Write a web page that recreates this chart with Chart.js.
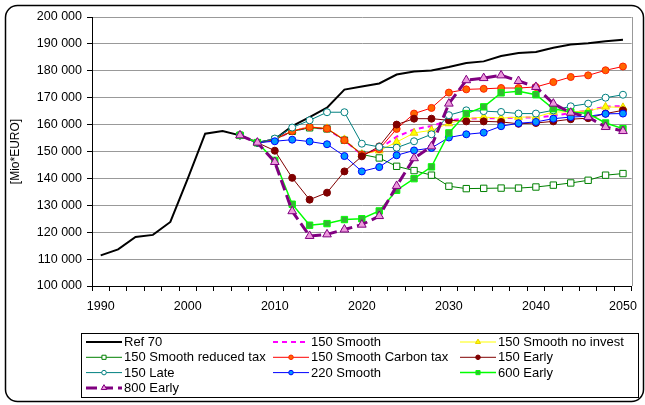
<!DOCTYPE html>
<html>
<head>
<meta charset="utf-8">
<script src="https://cdn.jsdelivr.net/npm/chart.js@4.4.1/dist/chart.umd.min.js"></script>
<style>
  html, body { margin: 0; padding: 0; background: #fff; }
</style>
</head>
<body>
<canvas id="myChart" width="645" height="405"></canvas>
<script>
// categories: one every two years
var years = ['1990','1992','1994','1996','1998','2000','2002','2004','2006','2008','2010',
             '2012','2014','2016','2018','2020','2022','2024','2026','2028','2030',
             '2032','2034','2036','2038','2040','2042','2044','2046','2048','2050'];

var yTicks = [100000, 110000, 120000, 130000, 140000, 150000, 160000, 170000, 180000, 190000, 200000];

// series values, Mio EURO (scenarios start in 2006)
var ref70      = [111400,113600,118200,119000,123800,139900,156600,157600,156000,153300,154500,159400,162800,166300,173000,174200,175300,178600,179700,180100,181400,182900,183500,185500,186600,187000,188600,189800,190200,191000,191500];
var smooth150  = [null,null,null,null,null,null,null,null,156000,153300,154400,157600,159000,158400,154200,148800,151000,155500,158200,159500,161500,162300,162300,162400,162600,162700,163200,164300,165200,166700,166900];
var noInvest   = [null,null,null,null,null,null,null,null,156000,153300,154500,157700,159200,158600,154500,149000,150300,153500,156900,157900,160400,162200,162800,162400,162800,162800,164700,164700,165100,166600,166400];
var reducedTax = [null,null,null,null,null,null,null,null,156000,153300,154500,157500,158800,158400,154200,148900,147600,144500,142900,141200,137100,136200,136300,136400,136400,136800,137500,138300,139300,141200,141800];
var carbonTax  = [null,null,null,null,null,null,null,null,156000,153300,154500,157600,159100,158500,154200,148800,150900,158400,164100,166200,171900,173100,173300,173600,173600,174000,175800,177700,178300,180200,181600];
var early150   = [null,null,null,null,null,null,null,null,156000,153300,150300,140200,132100,134700,142600,148200,151900,160000,162200,162200,161600,161200,161200,161000,160300,160600,161200,162000,162400,164100,165300];
var late150    = [null,null,null,null,null,null,null,null,156000,153300,154800,158900,161600,164600,164600,152900,151700,151400,153800,156400,163500,165300,165000,164700,164100,164100,165300,166800,167800,170000,171100];
var smooth220  = [null,null,null,null,null,null,null,null,156000,153300,153800,154400,153700,152700,148300,142600,144200,148600,150400,151300,155200,156400,157000,159400,160500,161000,162200,162800,163100,164000,164100];
var early600   = [null,null,null,null,null,null,null,null,156000,153300,146700,130400,122600,123200,124700,125000,127900,135600,139900,144300,156900,164100,166600,171800,172400,171100,165900,164700,164100,160600,158500];
var early800   = [null,null,null,null,null,null,null,null,156000,153300,146100,127800,118600,119200,121000,122800,126000,137200,147500,151900,167800,176500,177300,178300,176200,174000,167800,164400,162800,159100,157600];

var FONT = '"Liberation Sans", Arial, sans-serif';

function series(label, data, color, width, dash, style, radius, fill, edge) {
    return {
        label: label,
        data: data,
        borderColor: color,
        backgroundColor: color,
        borderWidth: width,
        borderDash: dash,
        pointStyle: style,
        pointRadius: radius,
        pointBackgroundColor: fill,
        pointBorderColor: edge,
        pointBorderWidth: 1,
        pointHoverRadius: radius,
        tension: 0,
        spanGaps: false
    };
}

var datasets = [
    series('Ref 70', ref70, '#000000', 2, [], 'circle', 0, '#000', '#000'),
    series('150 Smooth', smooth150, '#FF00FF', 2, [5, 4], 'circle', 0, '#FF00FF', '#FF00FF'),
    series('150 Smooth no invest', noInvest, '#FFFF00', 1, [], 'triangle', 4.5, '#FFFF00', '#E8D000'),
    series('150 Smooth reduced tax', reducedTax, '#008000', 1, [], 'rect', 4.5, '#FFFFFF', '#008000'),
    series('150 Smooth Carbon tax', carbonTax, '#FF0000', 1, [], 'circle', 3.5, '#FF6600', '#FF2200'),
    series('150 Early', early150, '#800000', 1, [], 'circle', 3.5, '#800000', '#800000'),
    series('150 Late', late150, '#008080', 1, [], 'circle', 3.5, '#FFFFFF', '#008080'),
    series('220 Smooth', smooth220, '#0000FF', 1, [], 'circle', 3.5, '#0099FF', '#0000FF'),
    series('600 Early', early600, '#00FF00', 1.5, [], 'rect', 4.5, '#33B833', '#00FF00'),
    series('800 Early', early800, '#800080', 3, [11, 5], 'triangle', 5, '#EE99DD', '#800080')
];
// later series are drawn on top, as in the original
datasets.forEach(function (ds, i) { ds.order = -i; });

// white page with the rounded outer frame and the plot's right edge
var frame = {
    id: 'frame',
    beforeDraw: function (chart) {
        var ctx = chart.ctx;
        ctx.save();
        ctx.fillStyle = '#fff';
        ctx.fillRect(0, 0, chart.width, chart.height);
        ctx.strokeStyle = '#000';
        ctx.lineWidth = 1.5;
        ctx.beginPath();
        ctx.roundRect(5.5, 5.5, 638, 396, 12);
        ctx.stroke();
        ctx.restore();
    },
    beforeDatasetsDraw: function (chart) {
        var a = chart.chartArea, ctx = chart.ctx;
        ctx.save();
        ctx.strokeStyle = '#999';
        ctx.lineWidth = 1;
        ctx.beginPath();
        ctx.moveTo(Math.round(a.right) + 0.5, a.top);
        ctx.lineTo(Math.round(a.right) + 0.5, a.bottom);
        ctx.stroke();
        ctx.restore();
    }
};

// three-column legend in a box below the plot
var legendBox = {
    id: 'legendBox',
    afterDraw: function (chart) {
        var ctx = chart.ctx;
        var colX = [86, 273, 460];
        ctx.save();
        ctx.strokeStyle = '#000';
        ctx.lineWidth = 1;
        ctx.strokeRect(81.5, 333.5, 557, 64);
        ctx.font = '13px ' + FONT;
        ctx.textBaseline = 'middle';
        chart.data.datasets.forEach(function (ds, i) {
            var x0 = colX[i % 3];
            var y0 = 342 + Math.floor(i / 3) * 15.3;
            ctx.strokeStyle = ds.borderColor;
            ctx.lineWidth = ds.borderWidth;
            ctx.setLineDash(ds.borderDash);
            ctx.beginPath();
            ctx.moveTo(x0, y0);
            ctx.lineTo(x0 + 36, y0);
            ctx.stroke();
            ctx.setLineDash([]);
            if (ds.pointRadius > 0) {
                ctx.fillStyle = ds.pointBackgroundColor;
                ctx.strokeStyle = ds.pointBorderColor;
                ctx.lineWidth = 1;
                Chart.helpers.drawPoint(ctx, {
                    pointStyle: ds.pointStyle,
                    radius: ds.pointRadius * 0.65,
                    rotation: 0,
                    borderWidth: 1
                }, x0 + 18, y0);
            }
            ctx.fillStyle = '#000';
            ctx.fillText(ds.label, x0 + 38, y0 + 0.5);
        });
        ctx.restore();
    }
};

var chart = new Chart(document.getElementById('myChart').getContext('2d'), {
    type: 'line',
    data: { labels: years, datasets: datasets },
    plugins: [frame, legendBox],
    options: {
        responsive: false,
        animation: false,
        events: [],
        layout: { padding: { left: 0, top: 17, right: 8, bottom: 79 } },
        plugins: {
            legend: { display: false },
            tooltip: { enabled: false }
        },
        scales: {
            x: {
                type: 'category',
                offset: true,
                grid: { offset: true, drawOnChartArea: false, color: '#000', tickLength: 5 },
                border: { color: '#000', width: 1 },
                ticks: {
                    autoSkip: false,
                    maxRotation: 0,
                    padding: 8,
                    color: '#000',
                    font: { family: FONT, size: 12.5 },
                    callback: function (v, i) {
                        var y = years[i];
                        return (+y % 10 === 0) ? y : '';
                    }
                },
                afterFit: function (scale) { scale.height = 40; }
            },
            y: {
                min: yTicks[0],
                max: yTicks[yTicks.length - 1],
                afterBuildTicks: function (scale) {
                    scale.ticks = yTicks.map(function (v) { return { value: v }; });
                },
                grid: { color: '#999', tickColor: '#000', tickLength: 5 },
                border: { color: '#000', width: 1 },
                ticks: {
                    padding: 5,
                    color: '#000',
                    font: { family: FONT, size: 12.5 },
                    callback: function (v) {
                        return String(v).replace(/\B(?=(\d{3})+(?!\d))/g, ' ');
                    }
                },
                title: {
                    display: true,
                    text: '[Mio*EURO]',
                    color: '#000',
                    font: { family: FONT, size: 12 },
                    padding: { top: 8, bottom: 0 }
                },
                afterFit: function (scale) { scale.width = 92; }
            }
        }
    }
});
</script>
</body>
</html>
